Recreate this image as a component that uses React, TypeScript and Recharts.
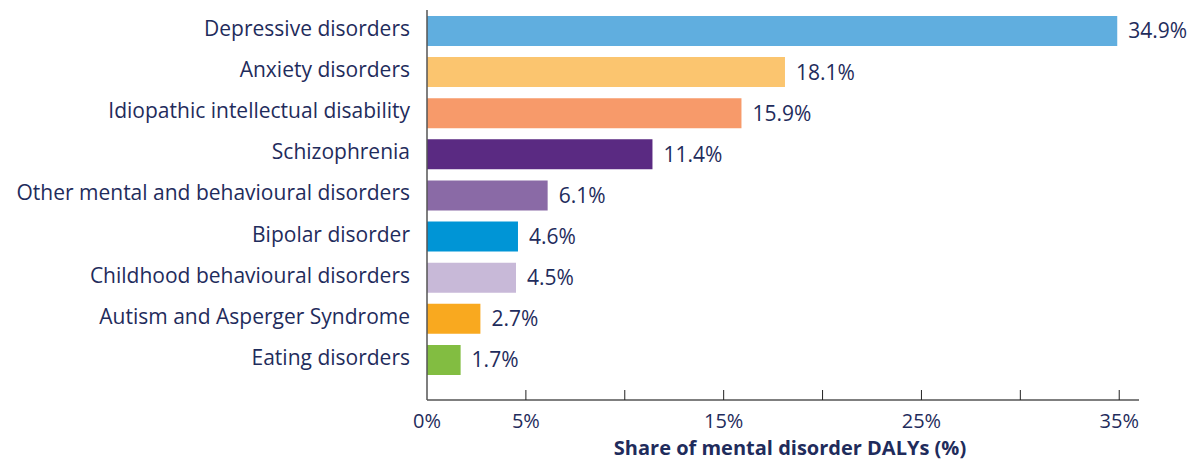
import React from 'react';
import { BarChart, Bar, XAxis, YAxis, Cell, LabelList } from 'recharts';

const categories = [
  'Depressive disorders',
  'Anxiety disorders',
  'Idiopathic intellectual disability',
  'Schizophrenia',
  'Other mental and behavioural disorders',
  'Bipolar disorder',
  'Childhood behavioural disorders',
  'Autism and Asperger Syndrome',
  'Eating disorders',
];
const shares = [34.9, 18.1, 15.9, 11.4, 6.1, 4.6, 4.5, 2.7, 1.7];
const barColors = ['#60AEDF', '#FBC56F', '#F79A6A', '#5A2A82', '#8A6AA6', '#0095D6', '#C8B9D8', '#F9A91F', '#82BD41'];
const xTicks = [0, 5, 10, 15, 20, 25, 30, 35];
const xTickLabels: Record<number, string> = { 0: '0%', 5: '5%', 10: '', 15: '15%', 20: '', 25: '25%', 30: '', 35: '35%' };
const axisTitle = 'Share of mental disorder DALYs (%)';

const data = categories.map((c, i) => ({ name: c, value: shares[i] }));

const FONT = '"Open Sans", "Noto Sans", sans-serif';
const NAVY = '#1F2C5C';
const FS = 21;

const XTick = (props: any) => {
  const { x, y, payload } = props;
  const label = xTickLabels[payload.value] ?? '';
  return (
    <g>
      {payload.value !== 0 && <line x1={x} x2={x} y1={y} y2={y - 10} stroke="#222" strokeWidth={1} />}
      <text x={x} y={y + 23} textAnchor="middle" dominantBaseline="middle" fill={NAVY} fontSize={20} fontFamily={FONT}>
        {label}
      </text>
    </g>
  );
};

export default function App() {
  return (
    <div style={{ position: 'absolute', left: 0, top: 0, background: '#fff' }}>
      <BarChart
        width={1193}
        height={462}
        data={data}
        layout="vertical"
        margin={{ top: 10, right: 54, bottom: 0, left: 0 }}
      >
        <XAxis
          type="number"
          domain={[0, 36]}
          ticks={xTicks}
          tick={<XTick />}
          tickLine={false}
          tickSize={0}
          tickMargin={0}
          height={62}
          axisLine={{ stroke: '#555', strokeWidth: 1.5 }}
          interval={0}
          label={{
            content: () => (
              <text x={790} y={450} textAnchor="middle" dominantBaseline="middle" fill={NAVY} fontSize={20} fontWeight={700} fontFamily={FONT}>
                {axisTitle}
              </text>
            ),
          }}
        />
        <YAxis
          type="category"
          dataKey="name"
          width={427}
          tickLine={false}
          tickSize={0}
          tickMargin={17}
          interval={0}
          padding={{ top: 0, bottom: 20 }}
          axisLine={{ stroke: '#555', strokeWidth: 1.5 }}
          tick={{ fill: NAVY, fontSize: FS, fontFamily: FONT, dy: -2 }}
        />
        <Bar dataKey="value" barSize={30} isAnimationActive={false}>
          {data.map((d, i) => (
            <Cell key={d.name} fill={barColors[i]} />
          ))}
          <LabelList
            dataKey="value"
            position="right"
            offset={11}
            formatter={(v: any) => `${Number(v).toFixed(1)}%`}
            style={{ fill: NAVY, fontSize: FS, fontFamily: FONT }}
          />
        </Bar>
      </BarChart>
    </div>
  );
}
